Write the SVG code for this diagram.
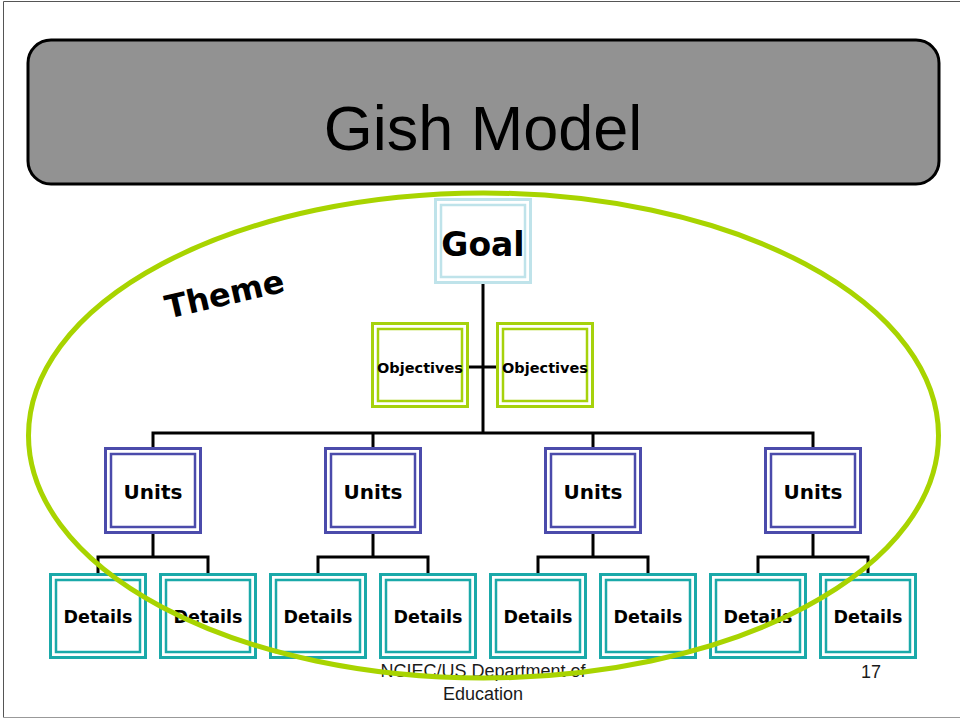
<svg xmlns="http://www.w3.org/2000/svg" width="960" height="719" viewBox="0 0 960 719">
  <defs>
    <style>
      .lbl { font-family: "DejaVu Sans", Verdana, sans-serif; font-weight: bold; fill: #000; text-anchor: middle; }
      .outer { fill: #fff; stroke-width: 3; }
      .inner { fill: none; stroke-width: 2.5; }
      .goal { stroke: #bfe3ea; }
      .obj { stroke: #a6d20c; }
      .unit { stroke: #4b4bab; }
      .det { stroke: #1aa9a9; }
      .wire { fill: none; stroke: #000; stroke-width: 3; }
      .foot { font-family: "Liberation Sans", Arial, sans-serif; font-size: 18px; fill: #1a1a1a; text-anchor: middle; }
    </style>
  </defs>

  <rect width="960" height="719" fill="#fff"/>
  <!-- page frame -->
  <line x1="3.5" y1="1.5" x2="960" y2="1.5" stroke="#555" stroke-width="1"/>
  <line x1="3.5" y1="1.5" x2="3.5" y2="717.5" stroke="#555" stroke-width="1"/>
  <line x1="3.5" y1="717.5" x2="960" y2="717.5" stroke="#999" stroke-width="1"/>

  <!-- title bar -->
  <g id="title">
    <rect x="28" y="40" width="911" height="144" rx="23" ry="23" fill="#929292" stroke="#000" stroke-width="3"/>
    <text x="483" y="150" font-family="Liberation Sans, Arial, sans-serif" font-size="63" text-anchor="middle" fill="#000">Gish Model</text>
  </g>

  <!-- connectors -->
  <g id="connectors">
    <path class="wire" d="M483 283 V433"/>
    <path class="wire" d="M468 367 H497"/>
    <path class="wire" d="M153 448 V433 H813 V448 M373 433 V448 M593 433 V448"/>
    <path class="wire" d="M153 533 V557 M98 574 V557 H208 V574"/>
    <path class="wire" d="M373 533 V557 M318 574 V557 H428 V574"/>
    <path class="wire" d="M593 533 V557 M538 574 V557 H648 V574"/>
    <path class="wire" d="M813 533 V557 M758 574 V557 H868 V574"/>
  </g>

  <!-- nodes -->
  <g id="goal">
    <rect class="outer goal" x="435.5" y="199.5" width="95" height="83"/>
    <rect class="inner goal" x="441" y="205" width="84" height="72"/>
    <text class="lbl" x="483" y="256" font-size="33">Goal</text>
  </g>

  <g id="objectives-left">
    <rect class="outer obj" x="372.5" y="323.5" width="95" height="83"/>
    <rect class="inner obj" x="378" y="329" width="84" height="72"/>
    <text class="lbl" x="420" y="373" font-size="14.5">Objectives</text>
  </g>
  <g id="objectives-right">
    <rect class="outer obj" x="497.5" y="323.5" width="95" height="83"/>
    <rect class="inner obj" x="503" y="329" width="84" height="72"/>
    <text class="lbl" x="545" y="373" font-size="14.5">Objectives</text>
  </g>

  <g id="units-1">
    <rect class="outer unit" x="105.5" y="448.5" width="95" height="84"/>
    <rect class="inner unit" x="111" y="454" width="84" height="73"/>
    <text class="lbl" x="153" y="499" font-size="20">Units</text>
  </g>
  <g id="units-2">
    <rect class="outer unit" x="325.5" y="448.5" width="95" height="84"/>
    <rect class="inner unit" x="331" y="454" width="84" height="73"/>
    <text class="lbl" x="373" y="499" font-size="20">Units</text>
  </g>
  <g id="units-3">
    <rect class="outer unit" x="545.5" y="448.5" width="95" height="84"/>
    <rect class="inner unit" x="551" y="454" width="84" height="73"/>
    <text class="lbl" x="593" y="499" font-size="20">Units</text>
  </g>
  <g id="units-4">
    <rect class="outer unit" x="765.5" y="448.5" width="95" height="84"/>
    <rect class="inner unit" x="771" y="454" width="84" height="73"/>
    <text class="lbl" x="813" y="499" font-size="20">Units</text>
  </g>

  <g id="details-1">
    <rect class="outer det" x="50.5" y="574.5" width="95" height="83"/>
    <rect class="inner det" x="56" y="580" width="84" height="72"/>
    <text class="lbl" x="98" y="623" font-size="17.5">Details</text>
  </g>
  <g id="details-2">
    <rect class="outer det" x="160.5" y="574.5" width="95" height="83"/>
    <rect class="inner det" x="166" y="580" width="84" height="72"/>
    <text class="lbl" x="208" y="623" font-size="17.5">Details</text>
  </g>
  <g id="details-3">
    <rect class="outer det" x="270.5" y="574.5" width="95" height="83"/>
    <rect class="inner det" x="276" y="580" width="84" height="72"/>
    <text class="lbl" x="318" y="623" font-size="17.5">Details</text>
  </g>
  <g id="details-4">
    <rect class="outer det" x="380.5" y="574.5" width="95" height="83"/>
    <rect class="inner det" x="386" y="580" width="84" height="72"/>
    <text class="lbl" x="428" y="623" font-size="17.5">Details</text>
  </g>
  <g id="details-5">
    <rect class="outer det" x="490.5" y="574.5" width="95" height="83"/>
    <rect class="inner det" x="496" y="580" width="84" height="72"/>
    <text class="lbl" x="538" y="623" font-size="17.5">Details</text>
  </g>
  <g id="details-6">
    <rect class="outer det" x="600.5" y="574.5" width="95" height="83"/>
    <rect class="inner det" x="606" y="580" width="84" height="72"/>
    <text class="lbl" x="648" y="623" font-size="17.5">Details</text>
  </g>
  <g id="details-7">
    <rect class="outer det" x="710.5" y="574.5" width="95" height="83"/>
    <rect class="inner det" x="716" y="580" width="84" height="72"/>
    <text class="lbl" x="758" y="623" font-size="17.5">Details</text>
  </g>
  <g id="details-8">
    <rect class="outer det" x="820.5" y="574.5" width="95" height="83"/>
    <rect class="inner det" x="826" y="580" width="84" height="72"/>
    <text class="lbl" x="868" y="623" font-size="17.5">Details</text>
  </g>

  <!-- footer -->
  <g id="footer">
    <text class="foot" x="483" y="677">NCIEC/US Department of</text>
    <text class="foot" x="483" y="700">Education</text>
    <text class="foot" x="871" y="678">17</text>
  </g>

  <!-- theme ring around the hierarchy -->
  <g id="theme">
    <ellipse cx="483.5" cy="435.5" rx="455" ry="242.5" fill="none" stroke="#a8d400" stroke-width="5"/>
    <text class="lbl" x="0" y="0" font-size="32" transform="translate(227 305) rotate(-13)">Theme</text>
  </g>
</svg>
